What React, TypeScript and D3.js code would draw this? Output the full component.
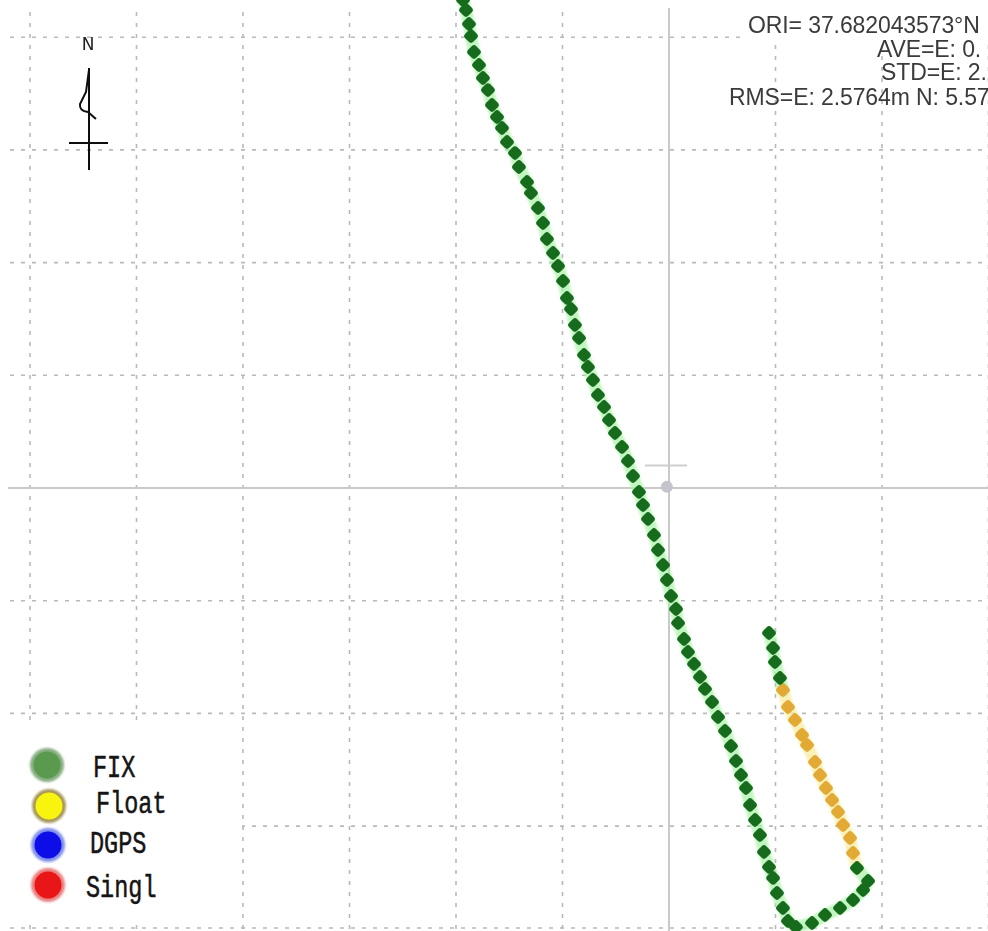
import React from 'react';
import * as d3 from 'd3';

// ---- data (East / North offsets in metres from the origin ORI) ----
const fixMainE = [-1.934, -1.906, -1.878, -1.859, -1.831, -1.784, -1.747, -1.700, -1.662, -1.615, -1.568, -1.521, -1.446, -1.409, -1.333, -1.296, -1.230, -1.183, -1.146, -1.089, -1.042, -0.995, -0.958, -0.920, -0.883, -0.845, -0.798, -0.761, -0.714, -0.667, -0.610, -0.563, -0.507, -0.441, -0.385, -0.338, -0.282, -0.244, -0.197, -0.141, -0.103, -0.056, -0.019, 0.019, 0.066, 0.085, 0.141, 0.178, 0.235, 0.291, 0.338, 0.404, 0.460, 0.526, 0.582, 0.629, 0.676, 0.723, 0.761, 0.808, 0.854, 0.892, 0.939, 0.977, 1.014, 1.070, 1.117, 1.192, 1.343, 1.465, 1.606, 1.728, 1.822, 1.869, 1.765];
const fixMainN = [4.330, 4.241, 4.117, 4.011, 3.869, 3.753, 3.638, 3.531, 3.398, 3.292, 3.194, 3.070, 2.972, 2.848, 2.715, 2.618, 2.484, 2.351, 2.209, 2.085, 1.970, 1.837, 1.686, 1.588, 1.446, 1.331, 1.180, 1.074, 0.958, 0.825, 0.719, 0.603, 0.488, 0.364, 0.240, 0.106, -0.035, -0.151, -0.275, -0.417, -0.550, -0.683, -0.816, -0.958, -1.074, -1.198, -1.340, -1.455, -1.562, -1.677, -1.783, -1.899, -2.032, -2.156, -2.289, -2.422, -2.547, -2.662, -2.813, -2.946, -3.079, -3.230, -3.363, -3.460, -3.594, -3.727, -3.842, -3.895, -3.860, -3.789, -3.727, -3.656, -3.567, -3.487, -3.372];
const floatE = [1.728, 1.700, 1.634, 1.587, 1.531, 1.474, 1.418, 1.371, 1.296, 1.249, 1.183, 1.117, 1.070];
const floatN = [-3.239, -3.106, -2.990, -2.875, -2.768, -2.662, -2.547, -2.431, -2.280, -2.192, -2.059, -1.943, -1.792];
const fixTailE = [1.042, 0.995, 0.977, 0.939];
const fixTailN = [-1.686, -1.544, -1.420, -1.287];

const gridE = [-6, -5, -4, -3, -2, -1, 1, 2, 3];
const gridN = [-4, -3, -2, -1, 1, 2, 3, 4];

const legendLabels = ['FIX', 'Float', 'DGPS', 'Singl'];
const legendFills = ['#5a9a50', '#f8f40c', '#0808e8', '#e81212'];
const legendRims = ['#86ae80', '#a8985a', '#8090ea', '#ea8080'];

const infoLines = [
  { text: 'ORI= 37.682043573°N', x: 748, y: 33 },
  { text: 'AVE=E: 0.', x: 877, y: 57 },
  { text: 'STD=E: 2.', x: 881, y: 80 },
  { text: 'RMS=E: 2.5764m N: 5.57', x: 729, y: 105 },
];

const W = 988;
const H = 931;

export default function App() {
  const x = d3.scaleLinear().domain([-6, 3]).range([30, 988.5]);
  const y = d3.scaleLinear().domain([-4, 4]).range([938.8, 37.2]);

  const fixMain = fixMainE.map((e, i) => [e, fixMainN[i]] as [number, number]);
  const floatPts = floatE.map((e, i) => [e, floatN[i]] as [number, number]);
  const fixTail = fixTailE.map((e, i) => [e, fixTailN[i]] as [number, number]);

  const line = d3
    .line<[number, number]>()
    .x((d) => x(d[0]))
    .y((d) => y(d[1]));

  const left = 10;
  const top = 12;
  const bottomFrame = 928;

  const dot = (d: [number, number], i: number, fill: string, key: string) => (
    <rect
      key={key + i}
      x={x(d[0]) - 5.7}
      y={y(d[1]) - 5.7}
      width={11.4}
      height={11.4}
      rx={3.2}
      fill={fill}
      transform={`rotate(45 ${x(d[0])} ${y(d[1])})`}
    />
  );

  return (
    <svg
      width={W}
      height={H}
      style={{ position: 'absolute', left: 0, top: 0, background: '#fff' }}
    >
      <rect x={0} y={0} width={W} height={H} fill="#fff" />
      <defs>
        <filter id="blur1" x="-50%" y="-50%" width="200%" height="200%">
          <feGaussianBlur stdDeviation="1.3" />
        </filter>
        <filter id="blur2" x="-50%" y="-50%" width="200%" height="200%">
          <feGaussianBlur stdDeviation="0.55" />
        </filter>
      </defs>

      {/* dashed grid */}
      <g stroke="#b9b9b9" strokeWidth={1.6} strokeDasharray="4 7">
        {gridE.map((v) => (
          <line key={'gx' + v} x1={x(v)} x2={x(v)} y1={top} y2={H} />
        ))}
        {gridN.map((v) => (
          <line key={'gy' + v} x1={left} x2={W} y1={y(v)} y2={y(v)} />
        ))}
        <line x1={left} x2={W} y1={bottomFrame} y2={bottomFrame} />
      </g>

      {/* solid axes through origin */}
      <line x1={x(0)} x2={x(0)} y1={8} y2={H} stroke="#c9c9c9" strokeWidth={2} />
      <line x1={8} x2={W} y1={y(0)} y2={y(0)} stroke="#c9c9c9" strokeWidth={2} />
      <line x1={x(0) - 24} x2={x(0) + 18} y1={y(0.2)} y2={y(0.2)} stroke="#cfcfcf" strokeWidth={2} />
      <circle cx={x(-0.02)} cy={y(0.01)} r={6} fill="#c4c4cc" />

      {/* info box */}
      <rect x={744} y={0} width={W - 744} height={42} fill="#fff" />
      <g fontFamily="'Liberation Sans', Arial, sans-serif" fontSize={23} fill="#3a3a3a" filter="url(#blur2)">
        {infoLines.map((l) => (
          <text key={l.text} x={l.x} y={l.y} letterSpacing={-0.1}>
            {l.text}
          </text>
        ))}
      </g>

      {/* north arrow */}
      <g stroke="#111" strokeWidth={2} fill="none" filter="url(#blur2)">
        <line x1={89} y1={68} x2={89} y2={170} />
        <line x1={69} y1={143} x2={108} y2={143} />
        <path d="M89,70 L86,92 L80,104 Q79,111 88,112 L96,119" />
      </g>
      <text x={88} y={50} textAnchor="middle" fontFamily="'DejaVu Sans', sans-serif" fontSize={17} fill="#222" filter="url(#blur2)">
        N
      </text>

      {/* legend box */}
      <rect x={8} y={727} width={234} height={198} fill="#fff" />
      {legendLabels.map((lab, i) => {
        const cy = [765, 806, 845, 885][i];
        const cx = [47, 49, 48, 48][i];
        const tx = [93, 96, 90, 86][i];
        const ty = [777, 813, 853, 897][i];
        return (
          <g key={lab}>
            <circle cx={cx} cy={cy} r={17} fill={legendRims[i]} filter="url(#blur1)" />
            <circle cx={cx} cy={cy} r={13.5} fill={legendFills[i]} filter="url(#blur2)" />
            <text
              x={tx}
              y={ty}
              fontFamily="'Liberation Mono', 'Courier New', monospace"
              fontSize={23.5}
              fill="#151515"
              stroke="#151515"
              strokeWidth={0.4}
              transform={`translate(0 ${ty}) scale(1 1.35) translate(0 ${-ty})`}
            >
              {lab}
            </text>
          </g>
        );
      })}

      {/* track halo */}
      <g fill="none" strokeLinecap="round" strokeLinejoin="round">
        <path d={line(fixMain) || ''} stroke="#a8f2a4" strokeWidth={12} opacity={0.7} filter="url(#blur1)" />
        <path d={line([fixMain[fixMain.length - 1], ...floatPts]) || ''} stroke="#f6ea96" strokeWidth={12} opacity={0.7} filter="url(#blur1)" />
        <path d={line([floatPts[floatPts.length - 1], ...fixTail]) || ''} stroke="#a8f2a4" strokeWidth={12} opacity={0.7} filter="url(#blur1)" />
      </g>

      {/* track dots */}
      <g filter="url(#blur2)">
        {fixMain.map((d, i) => dot(d, i, '#146c1c', 'fm'))}
        {floatPts.map((d, i) => dot(d, i, '#e2aa34', 'fl'))}
        {fixTail.map((d, i) => dot(d, i, '#146c1c', 'ft'))}
      </g>
    </svg>
  );
}
